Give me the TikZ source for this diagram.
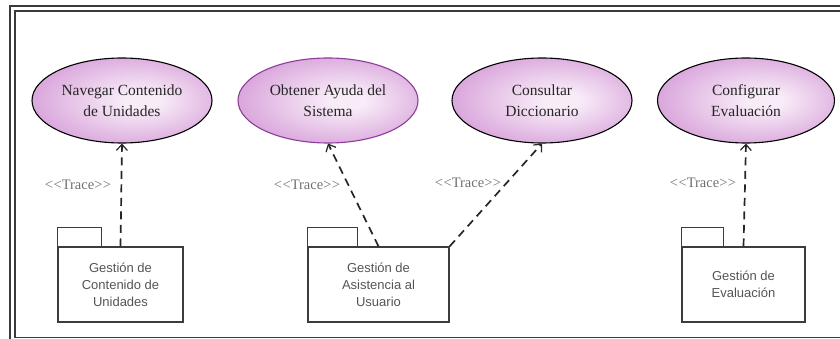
\documentclass[tikz,border=0pt]{standalone}
\usepackage{fontspec}
\setmainfont{Liberation Serif}
\setsansfont{Liberation Sans}
\usetikzlibrary{shapes.geometric,arrows.meta}
\definecolor{inC}{HTML}{F8ECF8}
\definecolor{outC}{HTML}{BC62C0}
\definecolor{frameC}{HTML}{3A3A3A}
\definecolor{pkgC}{HTML}{3C3C3C}
\definecolor{pkgT}{HTML}{555555}
\definecolor{traceT}{HTML}{707070}
\definecolor{selC}{HTML}{8E3C9A}
\pgfdeclareradialshading{ucshade}{\pgfpoint{6bp}{0bp}}{color(0bp)=(inC); color(5bp)=(inC); color(50bp)=(outC)}
\tikzset{
  usecase/.style={ellipse, shading=ucshade, draw=black, line width=1.1pt,
    minimum width=180, minimum height=85, inner sep=0pt, align=center,
    text=black!85, font=\fontsize{15.5}{21}\selectfont},
  pkgbody/.style={rectangle, draw=pkgC, line width=1.2pt, fill=white, align=center,
    text=pkgT, font=\sffamily\fontsize{13}{17}\selectfont, inner sep=0pt},
  pkgtab/.style={draw=pkgC, line width=1.2pt},
  trace/.style={dashed, dash pattern=on 8pt off 5.5pt, line width=1.7pt, black!85,
    -{Straight Barb[length=6pt,width=11pt,line width=1.2pt]}},
  tracelbl/.style={text=traceT, font=\fontsize{14.5}{16}\selectfont, inner sep=0pt},
  frameln/.style={draw=frameC, line width=1.6pt}
}
\newcommand{\trc}{{<}\kern0.5pt{<}Trace{>}\kern0.5pt{>}}
\begin{document}
\begin{tikzpicture}[x=1pt,y=-1pt]
\useasboundingbox (0,0) rectangle (840,339);
% frame
\draw[frameln] (850,6) -- (10,6) -- (10,348);
\draw[frameln] (850,11) -- (15,11) -- (15,337.5) -- (850,337.5);
% use cases
\node[usecase] (e1) at (122,100.5) {Navegar Contenido\\de Unidades};
\node[usecase, draw=selC] (e2) at (328,100.5) {Obtener Ayuda del\\Sistema};
\node[usecase] (e3) at (542,100.5) {Consultar\\Diccionario};
\node[usecase, minimum width=177] (e4) at (746,100.5) {Configurar\\Evaluación};
% packages
\node[pkgbody, minimum width=125, minimum height=75] (p1) at (120.5,284.5) {Gestión de\\Contenido de\\Unidades};
\draw[pkgtab] (p1.north west) rectangle ++(44,-19);
\node[pkgbody, minimum width=141, minimum height=75] (p2) at (378.5,284.5) {Gestión de\\Asistencia al\\Usuario};
\draw[pkgtab] (p2.north west) rectangle ++(50,-19);
\node[pkgbody, minimum width=123, minimum height=75] (p3) at (743.5,284.5) {Gestión de\\Evaluación};
\draw[pkgtab] (p3.north west) rectangle ++(42,-19);
% traces
\draw[trace] (p1.north) -- (e1.south);
\draw[trace] (p2.north) -- (e2.south);
\draw[trace] (p2.north east) -- (e3.south);
\draw[trace] (p3.north) -- (e4.south);
\node[tracelbl] (t1) at (78,185) {\trc};
\node[tracelbl] (t2) at (307,185) {\trc};
\node[tracelbl] (t3) at (468,183) {\trc};
\node[tracelbl] (t4) at (703,183) {\trc};
\end{tikzpicture}
\end{document}
